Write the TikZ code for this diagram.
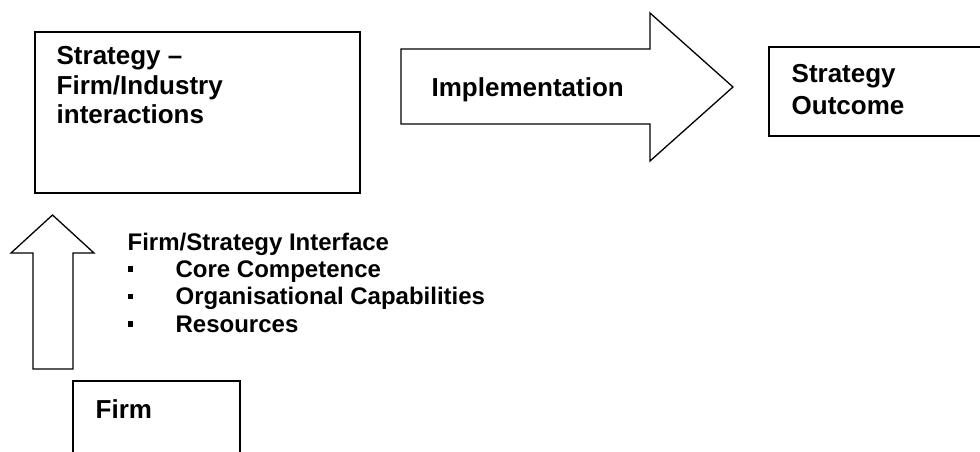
\documentclass[tikz,border=0pt]{standalone}
\usepackage{fontspec}
\setmainfont{Liberation Sans}
\begin{document}
\begin{tikzpicture}[x=1pt,y=-1pt,line width=1.3pt,line join=miter,
  box/.style={draw,anchor=north west,inner sep=0pt,outer sep=0pt},
  boxtext/.style={font=\bfseries\fontsize{26}{29}\selectfont,anchor=base west,inner sep=0pt},
  listtext/.style={font=\bfseries\fontsize{24}{27.5}\selectfont,anchor=base west,inner sep=0pt},
  bulletsq/.style={fill,minimum size=5.5pt,inner sep=0pt,outer sep=0pt}]
\useasboundingbox (0,0) rectangle (980,452);
\fill[white] (0,0) rectangle (980,452);

% Strategy - Firm/Industry interactions box
\node[box,minimum width=325pt,minimum height=161pt] (sfi) at (35,32) {};
\node[boxtext] (sfi1) at (56,65) {Strategy –};
\node[boxtext] (sfi2) at (56,94) {Firm/Industry};
\node[boxtext] (sfi3) at (56,123) {interactions};

% Implementation block arrow
\coordinate (impS) at (401,86.5);
\draw (401,49) -- (650,49) -- (650,13) -- (733,87) -- (650,161) -- (650,124) -- (401,124) -- cycle;
\node[boxtext] (impl) at (431,96) {Implementation};

% Strategy Outcome box
\node[box,minimum width=240pt,minimum height=89pt] (out) at (769,47) {};
\node[boxtext] (out1) at (791,83) {Strategy};
\node[boxtext] (out2) at (791,114) {Outcome};

% Up block arrow
\draw (33,369) -- (33,253) -- (11,253) -- (52.5,215) -- (94,253) -- (73,253) -- (73,369) -- cycle;

% Firm/Strategy Interface list
\node[listtext] (fsi) at (127,250) {Firm/Strategy Interface};
\node[bulletsq] (b1) at (130.5,269) {};
\node[listtext] (l1) at (175,277) {Core Competence};
\node[bulletsq] (b2) at (130.5,296.5) {};
\node[listtext] (l2) at (175,304.5) {Organisational Capabilities};
\node[bulletsq] (b3) at (130.5,324) {};
\node[listtext] (l3) at (175,332) {Resources};

% Firm box
\node[box,minimum width=167pt,minimum height=100pt] (firm) at (73,381) {};
\node[boxtext] (firmt) at (95,418) {Firm};
\end{tikzpicture}
\end{document}
